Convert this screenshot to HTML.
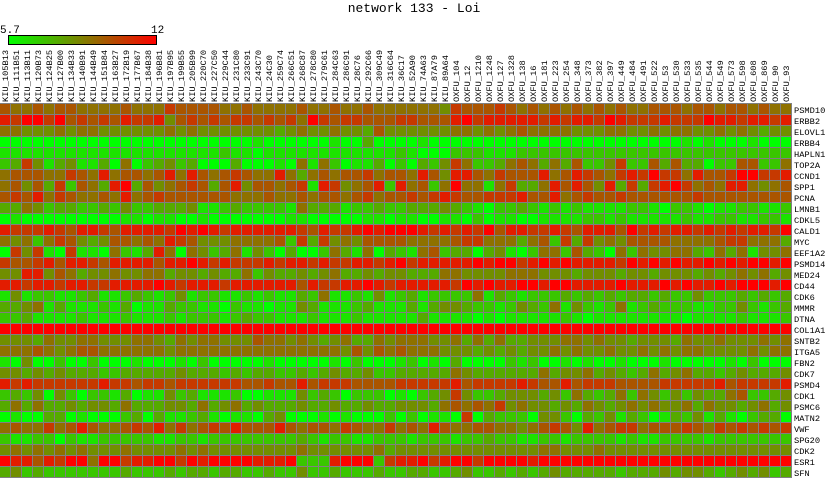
<!DOCTYPE html>
<html><head><meta charset="utf-8"><style>
html,body{margin:0;padding:0;background:#fff;width:829px;height:480px;overflow:hidden}
svg{display:block}
text{font-family:"Liberation Mono","DejaVu Sans Mono",monospace;fill:#000}
</style></head><body>
<svg width="829" height="480" xmlns="http://www.w3.org/2000/svg">
<defs><linearGradient id="g" x1="0" x2="1" y1="0" y2="0"><stop offset="0" stop-color="#00ff00"/><stop offset="0.5" stop-color="#808000"/><stop offset="1" stop-color="#ff0000"/></linearGradient></defs>
<text x="414" y="12" font-size="13" text-anchor="middle">network 133 - Loi</text>
<text x="0" y="33" font-size="11">5.7</text>
<text x="151" y="33" font-size="11">12</text>
<rect x="8.5" y="35.5" width="148" height="9" fill="url(#g)" stroke="#000" stroke-width="1"/>
<rect x="0" y="103" width="792" height="375" fill="#808080"/>
<g id="cells"></g>
<g font-size="8.7" id="cl">
<text transform="translate(8,102) rotate(-90)">KIU_105B13</text>
<text transform="translate(19,102) rotate(-90)">KIU_111B51</text>
<text transform="translate(30,102) rotate(-90)">KIU_113B11</text>
<text transform="translate(41,102) rotate(-90)">KIU_120B73</text>
<text transform="translate(52,102) rotate(-90)">KIU_124B25</text>
<text transform="translate(63,102) rotate(-90)">KIU_127B00</text>
<text transform="translate(74,102) rotate(-90)">KIU_134B33</text>
<text transform="translate(85,102) rotate(-90)">KIU_140B91</text>
<text transform="translate(96,102) rotate(-90)">KIU_144B49</text>
<text transform="translate(107,102) rotate(-90)">KIU_151B84</text>
<text transform="translate(118,102) rotate(-90)">KIU_163B27</text>
<text transform="translate(129,102) rotate(-90)">KIU_172B19</text>
<text transform="translate(140,102) rotate(-90)">KIU_177B67</text>
<text transform="translate(151,102) rotate(-90)">KIU_184B38</text>
<text transform="translate(162,102) rotate(-90)">KIU_196B81</text>
<text transform="translate(173,102) rotate(-90)">KIU_197B95</text>
<text transform="translate(184,102) rotate(-90)">KIU_199B55</text>
<text transform="translate(195,102) rotate(-90)">KIU_205B99</text>
<text transform="translate(206,102) rotate(-90)">KIU_220C70</text>
<text transform="translate(217,102) rotate(-90)">KIU_227C50</text>
<text transform="translate(228,102) rotate(-90)">KIU_229C44</text>
<text transform="translate(239,102) rotate(-90)">KIU_231C80</text>
<text transform="translate(250,102) rotate(-90)">KIU_233C91</text>
<text transform="translate(261,102) rotate(-90)">KIU_243C70</text>
<text transform="translate(272,102) rotate(-90)">KIU_24C30</text>
<text transform="translate(283,102) rotate(-90)">KIU_259C74</text>
<text transform="translate(294,102) rotate(-90)">KIU_266C51</text>
<text transform="translate(305,102) rotate(-90)">KIU_268C87</text>
<text transform="translate(316,102) rotate(-90)">KIU_278C80</text>
<text transform="translate(327,102) rotate(-90)">KIU_279C61</text>
<text transform="translate(338,102) rotate(-90)">KIU_284C63</text>
<text transform="translate(349,102) rotate(-90)">KIU_286C91</text>
<text transform="translate(360,102) rotate(-90)">KIU_28C76</text>
<text transform="translate(371,102) rotate(-90)">KIU_292C66</text>
<text transform="translate(382,102) rotate(-90)">KIU_309C49</text>
<text transform="translate(393,102) rotate(-90)">KIU_316C64</text>
<text transform="translate(404,102) rotate(-90)">KIU_36C17</text>
<text transform="translate(415,102) rotate(-90)">KIU_52A90</text>
<text transform="translate(426,102) rotate(-90)">KIU_74A63</text>
<text transform="translate(437,102) rotate(-90)">KIU_87A79</text>
<text transform="translate(448,102) rotate(-90)">KIU_89A64</text>
<text transform="translate(459,102) rotate(-90)">OXFU_104</text>
<text transform="translate(470,102) rotate(-90)">OXFU_12</text>
<text transform="translate(481,102) rotate(-90)">OXFU_1210</text>
<text transform="translate(492,102) rotate(-90)">OXFU_1248</text>
<text transform="translate(503,102) rotate(-90)">OXFU_127</text>
<text transform="translate(514,102) rotate(-90)">OXFU_1328</text>
<text transform="translate(525,102) rotate(-90)">OXFU_138</text>
<text transform="translate(536,102) rotate(-90)">OXFU_16</text>
<text transform="translate(547,102) rotate(-90)">OXFU_181</text>
<text transform="translate(558,102) rotate(-90)">OXFU_223</text>
<text transform="translate(569,102) rotate(-90)">OXFU_254</text>
<text transform="translate(580,102) rotate(-90)">OXFU_348</text>
<text transform="translate(591,102) rotate(-90)">OXFU_373</text>
<text transform="translate(602,102) rotate(-90)">OXFU_382</text>
<text transform="translate(613,102) rotate(-90)">OXFU_397</text>
<text transform="translate(624,102) rotate(-90)">OXFU_449</text>
<text transform="translate(635,102) rotate(-90)">OXFU_484</text>
<text transform="translate(646,102) rotate(-90)">OXFU_491</text>
<text transform="translate(657,102) rotate(-90)">OXFU_522</text>
<text transform="translate(668,102) rotate(-90)">OXFU_53</text>
<text transform="translate(679,102) rotate(-90)">OXFU_530</text>
<text transform="translate(690,102) rotate(-90)">OXFU_533</text>
<text transform="translate(701,102) rotate(-90)">OXFU_535</text>
<text transform="translate(712,102) rotate(-90)">OXFU_544</text>
<text transform="translate(723,102) rotate(-90)">OXFU_549</text>
<text transform="translate(734,102) rotate(-90)">OXFU_573</text>
<text transform="translate(745,102) rotate(-90)">OXFU_598</text>
<text transform="translate(756,102) rotate(-90)">OXFU_608</text>
<text transform="translate(767,102) rotate(-90)">OXFU_869</text>
<text transform="translate(778,102) rotate(-90)">OXFU_90</text>
<text transform="translate(789,102) rotate(-90)">OXFU_93</text>
</g>
<g font-size="8.7">
<text x="794" y="113">PSMD10</text>
<text x="794" y="124">ERBB2</text>
<text x="794" y="135">ELOVL1</text>
<text x="794" y="146">ERBB4</text>
<text x="794" y="157">HAPLN1</text>
<text x="794" y="168">TOP2A</text>
<text x="794" y="179">CCND1</text>
<text x="794" y="190">SPP1</text>
<text x="794" y="201">PCNA</text>
<text x="794" y="212">LMNB1</text>
<text x="794" y="223">CDKL5</text>
<text x="794" y="234">CALD1</text>
<text x="794" y="245">MYC</text>
<text x="794" y="256">EEF1A2</text>
<text x="794" y="267">PSMD14</text>
<text x="794" y="278">MED24</text>
<text x="794" y="289">CD44</text>
<text x="794" y="300">CDK6</text>
<text x="794" y="311">MMMR</text>
<text x="794" y="322">DTNA</text>
<text x="794" y="333">COL1A1</text>
<text x="794" y="344">SNTB2</text>
<text x="794" y="355">ITGA5</text>
<text x="794" y="366">FBN2</text>
<text x="794" y="377">CDK7</text>
<text x="794" y="388">PSMD4</text>
<text x="794" y="399">CDK1</text>
<text x="794" y="410">PSMC6</text>
<text x="794" y="421">MATN2</text>
<text x="794" y="432">VWF</text>
<text x="794" y="443">SPG20</text>
<text x="794" y="454">CDK2</text>
<text x="794" y="465">ESR1</text>
<text x="794" y="476">SFN</text>
</g>
</svg>
<script>
var rows=[
"655656655556555766665565"+"555655655655555547666765"+"656565656556665665665655",
"879979676768778467676776"+"767597677666776668978888"+"878788798777877798878878",
"554445455444444545444444"+"434544544364444445545456"+"555544455445455445454344",
"000000000000000000000001"+"000000100300001000000000"+"000000000000001010001000",
"111111111111111111112110"+"111111111111210002221112"+"222222222222222222222222",
"237413411305023423000300"+"010515201130203247522356"+"535362247226363302266225",
"566655765856656858656765"+"585356566756658648865766"+"685687657879775866799778",
"564637265389364567636846"+"656718745682856259551573"+"358686483737897565885456",
"676857655658567666666555"+"655656656756676787667778"+"668567667666666766666666",
"335423322324223334112322"+"221533312232233343210223"+"212121111221022101122112",
"010000000001101100100000"+"001100000110110011020110"+"011112212111112112211221",
"877787688768888798987888"+"888768778989998787879688"+"778768886978788787878879",
"545257643466565876444555"+"562737454666655556775553",
"074710711052138505423514"+"203002531503215623303410"+"255263205254455325351445",
"766786887688886889878777"+"878878778878978888898997"+"898988887989898898989989",
"448846534454455344343352"+"433434533434433355444455"+"544434443443444343454534",
"887887887788889878887888"+"888687788987888887989889"+"989988889888989889899989",
"141221123112321241221121"+"211325112141231222251321"+"222323232332322422232323",
"334513111213011322110211"+"011431112311131344322124"+"325142125123222112242123",
"223111121112111212221232"+"211121112111113111101011"+"111210111111110111121112",
"999999999999999999999999"+"999999999999999999999999"+"999999999999999999999999",
"444354455444554354554446"+"554543453354555445353533"+"444554544344435445444545",
"555654566555555455555555"+"555555546465655544434343"+"445454454454545544445455",
"104002002000100010200000"+"100000102000120103000021"+"200101001000100000102000",
"443434333223333343332323"+"322323433422333335433333"+"353445343235345332343334",
"878777777877677677777766"+"766867776666777778677778",
"232404202213011423111200"+"111423202220102347422344"+"434253235254242433562234",
"353533434435333443534534"+"333433433433444356565745"+"443435434545445354434534",
"010033010002303112310110"+"340001010002020110703222"+"044203241320132413102330",
"565575686556768575676866"+"686566576557565865566554"+"567648567756667657676767",
"211220211222221122122222"+"222321221122212221223221"+"122122221211222212222222",
"454545454445444454544444"+"444544444453444444444444"+"455444544444444444444444",
"988687995997889979899998"+"889222899927889789979999"+"899999999999999999999999",
"342322222223222323323322"+"322422322232233223422323"+"234333332333434432343423"
];
// fill shorter rows
rows=rows.map(function(r){while(r.length<72)r+=r.substr(r.length-24,24);return r.substr(0,72);});
var g=document.getElementById('cells'),s='';
for(var i=0;i<rows.length;i++){for(var j=0;j<72;j++){var d=+rows[i][j];var r=Math.round(255*d/9);
s+='<rect x="'+(j*11)+'" y="'+(104+i*11)+'" width="10" height="10" fill="rgb('+r+','+(255-r)+',0)"/>';}}
g.innerHTML=s;
</script>
</body></html>
